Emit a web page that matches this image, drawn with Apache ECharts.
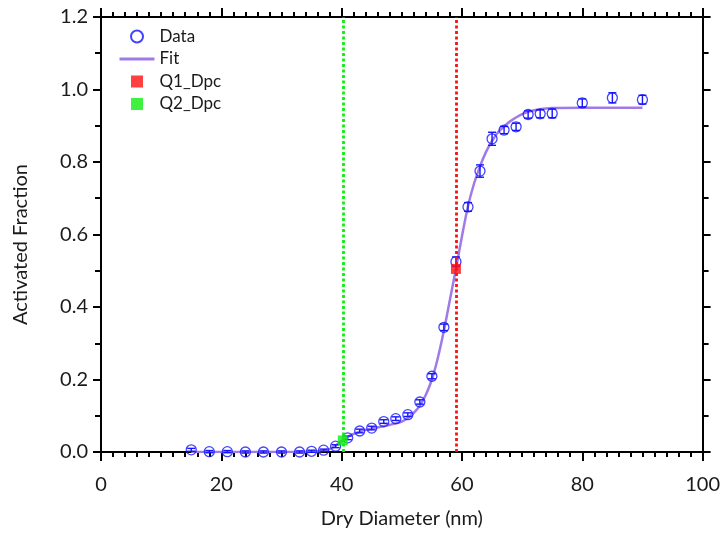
<!DOCTYPE html>
<html>
<head>
<meta charset="utf-8">
<script src="https://cdn.jsdelivr.net/npm/echarts@6/dist/echarts.min.js"></script>
<style>
  html, body { margin: 0; padding: 0; background: #fff; }
  #chart { width: 723px; height: 534px; }
</style>
</head>
<body>
<div id="chart"></div>
<script>
// Measured activation curve
const diameters = [15, 18, 21, 24, 27, 30, 33, 35, 37, 39, 41, 43, 45, 47, 49, 51,
  53, 55, 57, 59, 61, 63, 65, 67, 69, 71, 73, 75, 80, 85, 90];
const activated = [0.006, 0.001, 0.001, 0.000, 0.000, 0.000, 0.000, 0.002, 0.005,
  0.016, 0.039, 0.058, 0.066, 0.084, 0.092, 0.103, 0.138, 0.209, 0.344, 0.525,
  0.676, 0.775, 0.864, 0.888, 0.897, 0.931, 0.933, 0.934, 0.963, 0.977, 0.972];
const errors = [0.004, 0.003, 0.003, 0.003, 0.003, 0.003, 0.003, 0.003, 0.003,
  0.004, 0.005, 0.005, 0.005, 0.005, 0.005, 0.005, 0.006, 0.007, 0.009, 0.013,
  0.012, 0.017, 0.018, 0.010, 0.010, 0.010, 0.011, 0.012, 0.011, 0.014, 0.012];

// Fitted curve
const fitX = [15, 20, 25, 30, 34, 36, 37, 38, 39, 40, 41, 42, 43, 44, 45, 46, 47,
  48, 49, 50, 51, 52, 53, 54, 55, 56, 57, 58, 59, 60, 61, 62, 63, 64, 65, 66, 67,
  68, 70, 72, 75, 80, 85, 90];
const fitY = [0, 0, 0, 0, 0.001, 0.002, 0.004, 0.008, 0.018, 0.030, 0.042, 0.050,
  0.056, 0.061, 0.065, 0.068, 0.071, 0.075, 0.079, 0.084, 0.094, 0.108, 0.128,
  0.158, 0.200, 0.260, 0.335, 0.420, 0.505, 0.595, 0.678, 0.740, 0.788, 0.828,
  0.858, 0.882, 0.898, 0.912, 0.932, 0.943, 0.949, 0.950, 0.950, 0.950];

// Critical diameters
const q1 = [59.0, 0.505];
const q2 = [40.2, 0.032];

// Axis ranges and ticks
const xRange = [0, 100, 20];
const yRange = [0, 1.2, 0.2];

const FONT = 'Lato';
const TEXT = '#1a1a1a';
const blue = '#1414ff';
const purple = '#a07ae6';
const red = '#ff1010';
const green = '#10ee10';

const pairs = (xs, ys) => xs.map((x, i) => [x, ys[i]]);

const baseAxisLine = { show: true, onZero: false, lineStyle: { color: '#000', width: 2 } };

function xAxis(pos, showLabel) {
  return {
    type: 'value', position: pos, min: xRange[0], max: xRange[1], interval: xRange[2],
    axisLine: baseAxisLine,
    axisTick: { show: true, length: 9, lineStyle: { color: '#000', width: 2 } },
    minorTick: { show: true, splitNumber: 10, length: 5, lineStyle: { color: '#000', width: 2 } },
    splitLine: { show: false },
    axisLabel: { show: showLabel, margin: 23, fontFamily: FONT, fontSize: 20, color: TEXT },
    name: showLabel ? 'Dry Diameter (nm)' : '',
    nameLocation: 'middle', nameGap: 57,
    nameTextStyle: { fontFamily: FONT, fontSize: 20, color: TEXT }
  };
}
function yAxis(pos, showLabel) {
  return {
    type: 'value', position: pos, min: yRange[0], max: yRange[1], interval: yRange[2],
    axisLine: baseAxisLine,
    axisTick: { show: true, length: 8, lineStyle: { color: '#000', width: 2 } },
    minorTick: { show: true, splitNumber: 2, length: 6, lineStyle: { color: '#000', width: 2 } },
    splitLine: { show: false },
    axisLabel: { show: showLabel, margin: 13, fontFamily: FONT, fontSize: 20, color: TEXT,
      formatter: v => v.toFixed(1) },
    name: showLabel ? 'Activated Fraction' : '',
    nameLocation: 'middle', nameGap: 70,
    nameTextStyle: { fontFamily: FONT, fontSize: 20, color: TEXT, padding: [0, 20, 0, 0] }
  };
}

const squareIcon = 'path://M0,0H10V10H0Z';

const chart = echarts.init(document.getElementById('chart'), null, { renderer: 'canvas' });

chart.setOption({
  animation: false,
  backgroundColor: '#fff',
  grid: { left: 101, right: 18, top: 17, bottom: 81, containLabel: false },
  xAxis: [xAxis('bottom', true), xAxis('top', false)],
  yAxis: [yAxis('left', true), yAxis('right', false)],
  legend: {
    orient: 'vertical', left: 118, top: 28, itemGap: 5.5, padding: 0,
    itemWidth: 35, itemHeight: 12,
    textStyle: { fontFamily: FONT, fontSize: 17, color: TEXT, padding: [0, 0, 0, 0] },
    data: [
      { name: 'Data' },
      { name: 'Fit', itemStyle: { color: 'rgba(0,0,0,0)', borderWidth: 0 },
        lineStyle: { width: 3 } },
      { name: 'Q1_Dpc', icon: squareIcon },
      { name: 'Q2_Dpc', icon: squareIcon }
    ]
  },
  series: [
    {
      name: 'Fit', type: 'line', data: pairs(fitX, fitY), smooth: 0.3,
      symbol: 'none', z: 2,
      lineStyle: { color: purple, width: 2.5 }, itemStyle: { color: purple }
    },
    {
      name: 'errorbars', type: 'custom', z: 3,
      data: diameters.map((x, i) => [x, activated[i] - errors[i], activated[i] + errors[i]]),
      renderItem: (params, api) => {
        const lo = api.coord([api.value(0), api.value(1)]);
        const hi = api.coord([api.value(0), api.value(2)]);
        const w = 4;
        const style = { stroke: blue, lineWidth: 1.4, fill: null };
        return {
          type: 'group',
          children: [
            { type: 'line', shape: { x1: lo[0], y1: lo[1], x2: hi[0], y2: hi[1] }, style },
            { type: 'line', shape: { x1: lo[0] - w, y1: lo[1], x2: lo[0] + w, y2: lo[1] }, style },
            { type: 'line', shape: { x1: hi[0] - w, y1: hi[1], x2: hi[0] + w, y2: hi[1] }, style }
          ]
        };
      }
    },
    {
      name: 'Data', type: 'scatter', data: pairs(diameters, activated), z: 4,
      symbol: 'circle', symbolSize: 10,
      itemStyle: { color: 'rgba(255,255,255,0)', borderColor: blue, borderWidth: 1.3 }
    },
    {
      name: 'Q1_Dpc', type: 'scatter', data: [q1], z: 5,
      symbol: 'rect', symbolSize: 10, itemStyle: { color: red },
      markLine: {
        silent: true, symbol: ['none', 'none'], label: { show: false },
        lineStyle: { color: red, type: [3, 2.5], width: 2.8, opacity: 1 },
        emphasis: { disabled: true },
        data: [[{ coord: [q1[0], yRange[0]] }, { coord: [q1[0], yRange[1]] }]]
      }
    },
    {
      name: 'Q2_Dpc', type: 'scatter', data: [q2], z: 5,
      symbol: 'rect', symbolSize: 10, itemStyle: { color: green },
      markLine: {
        silent: true, symbol: ['none', 'none'], label: { show: false },
        lineStyle: { color: green, type: [3, 2.5], width: 2.8, opacity: 1 },
        emphasis: { disabled: true },
        data: [[{ coord: [q2[0], yRange[0]] }, { coord: [q2[0], yRange[1]] }]]
      }
    }
  ]
});
</script>
</body>
</html>
